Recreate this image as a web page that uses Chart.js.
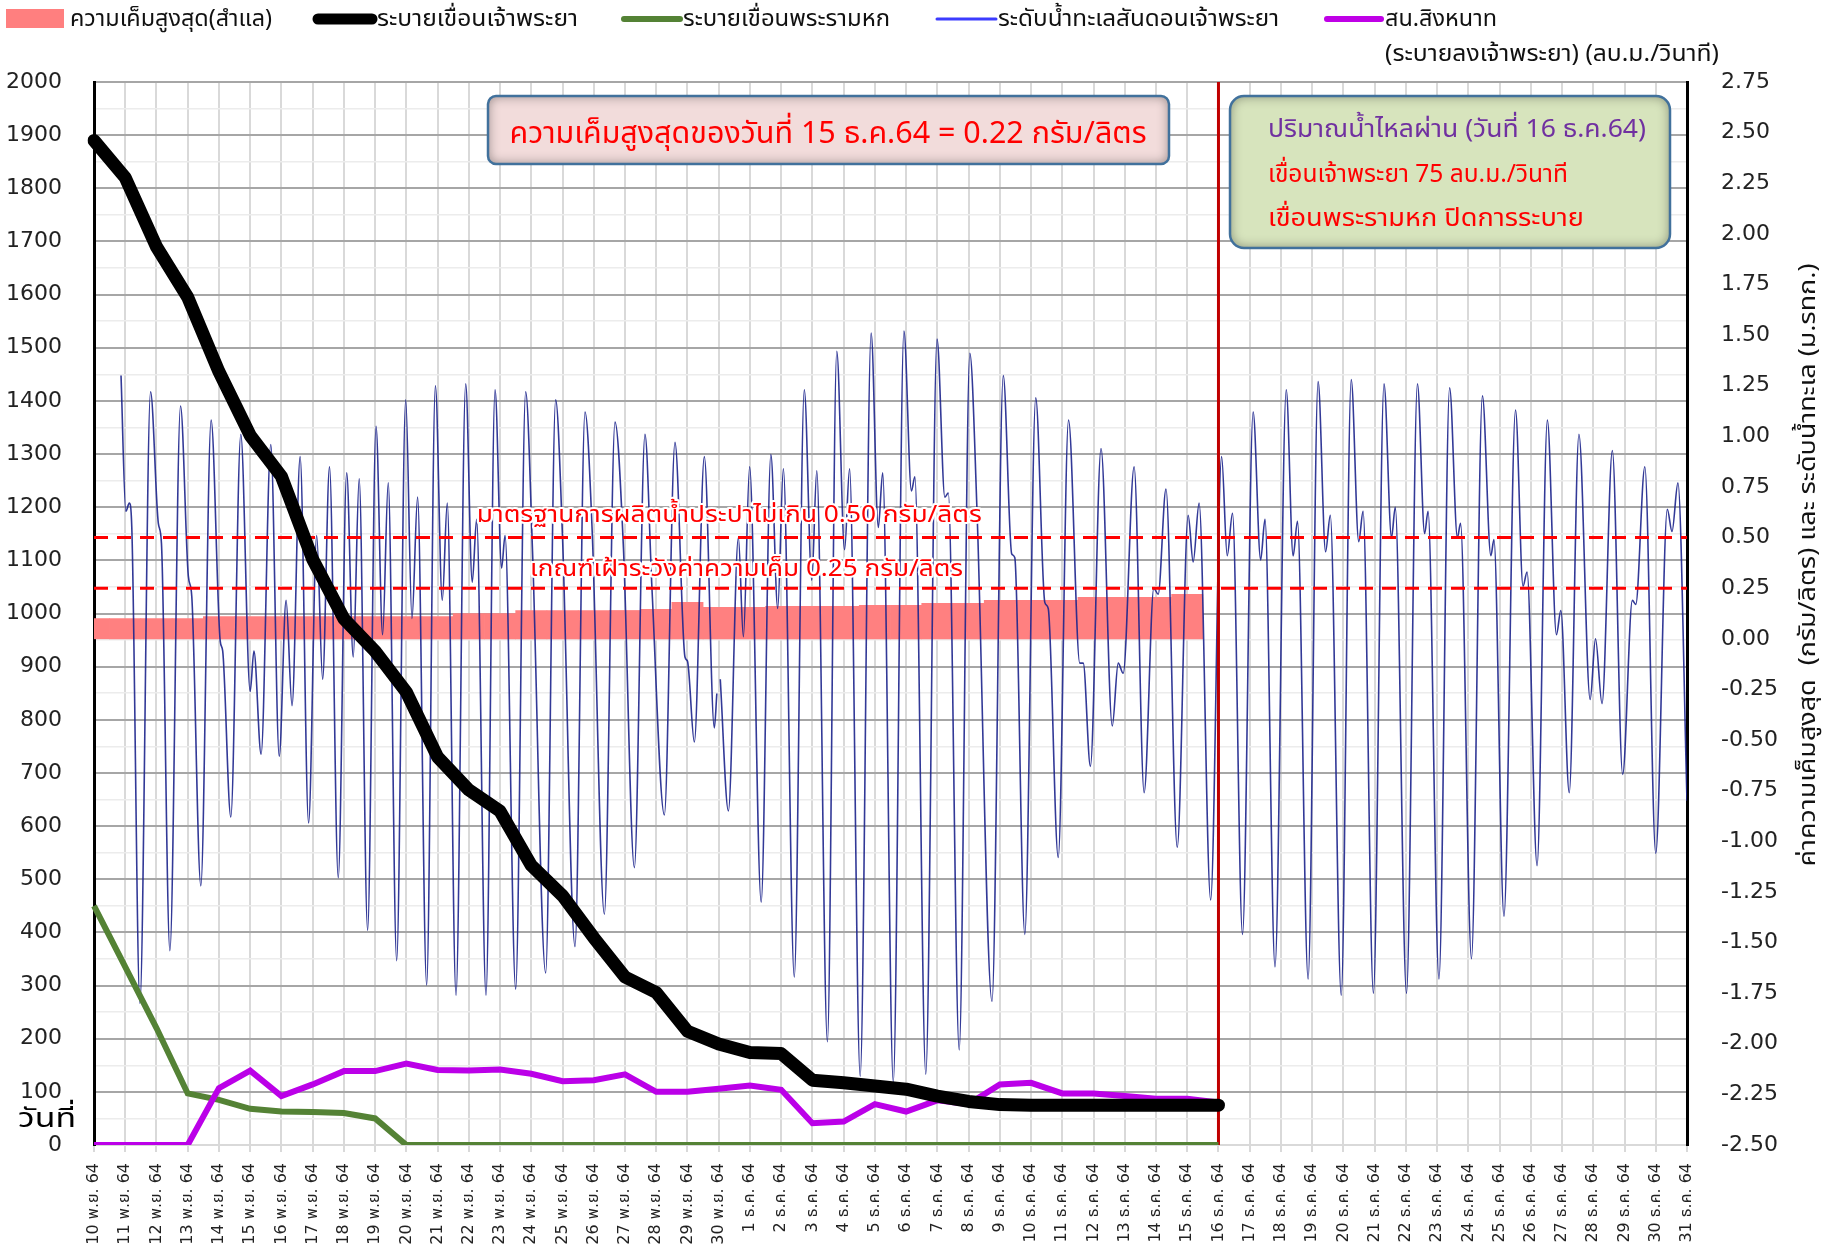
<!DOCTYPE html>
<html>
<head>
<meta charset="utf-8">
<script src="https://cdn.jsdelivr.net/npm/chart.js@4.4.0/dist/chart.umd.min.js"></script>
<style>
  html, body { margin: 0; padding: 0; background: #ffffff; }
  #wrap { position: relative; width: 1837px; height: 1247px; }
</style>
</head>
<body>
<div id="wrap"><canvas id="c" width="1837" height="1247"></canvas></div>
<script>
// ---- x-axis categories (one per day) ----
const novDays = [10,11,12,13,14,15,16,17,18,19,20,21,22,23,24,25,26,27,28,29,30];
const decDays = [1,2,3,4,5,6,7,8,9,10,11,12,13,14,15,16,17,18,19,20,21,22,23,24,25,26,27,28,29,30,31];
const dateLabels = novDays.map(d => d + ' พ.ย. 64').concat(decDays.map(d => d + ' ธ.ค. 64'));

// ---- daily maximum salinity at Samlae (g/l, right axis), 10 Nov - 15 Dec ----
const salinityMax = [0.10,0.10,0.10,0.10,0.11,0.11,0.11,0.11,0.11,0.11,0.11,0.11,0.125,0.125,0.14,0.14,
  0.14,0.14,0.145,0.18,0.155,0.155,0.16,0.16,0.16,0.165,0.165,0.175,0.175,0.19,0.19,0.19,0.205,0.205,0.205,0.22];

// ---- discharges (m3/s, left axis), 10 Nov - 16 Dec ----
const releaseChaoPhraya = [1890,1820,1690,1595,1455,1335,1258,1102,990,929,852,730,668,628,526,469,390,316,287,214,
  190,174,172,122,117,111,105,92,82,76,75,75,75,75,75,75,75];
const releaseRama6 = [450,335,220,97,85,68,63,62,60,50,0,0,0,0,0,0,0,0,0,0,0,0,0,0,0,0,0,0,0,0,0,0,0,0,0,0,0];
const releaseSinghanat = [0,0,0,0,107,140,92,114,139,139,153,141,140,142,134,120,122,133,100,100,106,112,104,41,44,77,
  63,84,77,114,117,97,97,92,87,87,80];

// ---- sea level at the Chao Phraya bar (m MSL, right axis): turning points, x in days from 10 Nov ----
const tideDay = [0.865,1.02,1.13,1.21,1.47,1.81,2.06,2.16,2.43,2.77,3.02,3.13,3.42,3.75,4.04,4.12,4.38,4.70,5.00,5.12,
  5.35,5.66,5.93,6.15,6.34,6.60,6.87,7.13,7.32,7.54,7.82,8.09,8.30,8.49,8.76,9.03,9.24,9.42,9.69,9.98,
  10.18,10.36,10.65,10.93,11.15,11.31,11.59,11.90,12.11,12.25,12.55,12.84,13.05,13.16,13.50,13.82,14.04,14.46,14.78,15.00,
  15.40,15.72,15.95,16.34,16.68,16.95,17.30,17.64,17.86,18.26,18.60,18.92,19.00,19.22,19.54,19.86,19.94,19.97,20.05,20.31,
  20.63,20.79,20.99,21.36,21.67,21.89,22.07,22.42,22.74,22.98,23.14,23.48,23.78,24.03,24.19,24.53,24.88,25.11,25.25,25.59,
  25.93,26.17,26.28,26.63,26.99,27.24,27.35,27.70,28.04,28.27,28.75,29.11,29.38,29.48,29.80,30.15,30.44,30.55,30.87,31.20,
  31.56,31.67,31.90,32.24,32.60,32.79,32.95,33.30,33.62,33.93,34.07,34.32,34.68,35.03,35.19,35.38,35.75,36.10,36.28,36.45,
  36.77,37.11,37.35,37.49,37.81,38.17,38.39,38.53,38.87,39.19,39.43,39.58,39.93,40.25,40.49,40.63,40.96,41.30,41.54,41.66,
  42.02,42.37,42.60,42.71,43.06,43.40,43.65,43.75,44.10,44.45,44.72,44.82,45.14,45.51,45.75,45.88,46.20,46.53,46.82,46.96,
  47.23,47.54,47.90,48.07,48.28,48.61,48.94,49.25,49.36,49.65,50.00,50.37,50.52,50.71,51.00];
const tideLevel = [1.30,0.63,0.67,0.55,-1.80,1.22,0.57,0.47,-1.54,1.15,0.31,0.21,-1.22,1.08,-0.01,-0.06,-0.88,1.01,-0.26,-0.06,
  -0.57,0.96,-0.58,0.19,-0.33,0.90,-0.91,0.51,-0.20,0.85,-1.18,0.82,-0.09,0.79,-1.44,1.05,0.02,0.77,-1.59,1.18,
  0.10,0.70,-1.71,1.25,0.19,0.67,-1.76,1.26,0.28,0.59,-1.76,1.23,0.35,0.51,-1.73,1.22,0.43,-1.65,1.18,0.50,
  -1.52,1.12,0.53,-1.36,1.07,0.45,-1.13,1.01,0.26,-0.87,0.97,-0.09,-0.11,-0.51,0.90,-0.44,-0.27,null,-0.20,-0.85,
  0.50,0.01,0.85,-1.30,0.91,0.15,0.84,-1.67,1.23,0.29,0.83,-1.99,1.42,0.44,0.84,-2.16,1.51,0.55,0.82,-2.19,
  1.52,0.73,0.80,-2.15,1.48,0.70,0.72,-2.03,1.41,0.63,-1.79,1.30,0.42,0.40,-1.46,1.19,0.18,0.15,-1.08,1.08,
  -0.12,-0.12,-0.63,0.94,-0.43,-0.12,-0.17,0.85,-0.76,0.25,0.22,0.74,-1.03,0.61,0.38,0.67,-1.29,0.90,0.41,0.62,
  -1.46,1.12,0.39,0.59,-1.62,1.23,0.41,0.58,-1.68,1.27,0.43,0.61,-1.76,1.28,0.48,0.63,-1.75,1.26,0.50,0.65,
  -1.75,1.26,0.52,0.63,-1.68,1.24,0.50,0.57,-1.58,1.20,0.41,0.49,-1.37,1.13,0.26,0.33,-1.12,1.08,0.02,0.14,
  -0.76,1.01,-0.30,0.00,-0.32,0.93,-0.67,0.19,0.17,0.85,-1.06,0.64,0.53,0.77,-0.80];

// ---- reference levels and report day ----
const standardLimit = 0.50;   // tap-water production standard (g/l)
const watchLimit = 0.25;      // salinity watch threshold (g/l)
const reportDay = 36;         // 16 Dec 64

const tidePoints = tideDay.map((d, i) => ({ x: d, y: tideLevel[i] }));

const THAI = "'Noto Sans Thai', 'Noto Sans Thai UI', 'Noto Looped Thai', 'Tahoma', 'Noto Sans', sans-serif";
const AXIS = "'DejaVu Sans', 'Noto Sans Thai', 'Noto Sans', sans-serif";

// draw text squeezed / stretched to a given width
function fitText(ctx, text, x, y, width, align, halo) {
  const w = ctx.measureText(text).width;
  const sx = width / w;
  ctx.save();
  ctx.translate(x, y);
  ctx.scale(sx, 1);
  ctx.textAlign = 'left';
  const x0 = align === 'center' ? -w / 2 : 0;
  if (halo) {
    ctx.lineJoin = 'round';
    ctx.lineWidth = halo;
    ctx.strokeStyle = '#ffffff';
    ctx.strokeText(text, x0, 0);
  }
  ctx.fillText(text, x0, 0);
  ctx.restore();
}

function noteBox(ctx, x, y, w, h, r, fill) {
  ctx.save();
  ctx.beginPath();
  ctx.roundRect(x, y, w, h, r);
  ctx.fillStyle = fill;
  ctx.fill();
  ctx.clip();
  ctx.shadowColor = 'rgba(0,0,0,0.6)';
  ctx.shadowBlur = 12;
  ctx.lineWidth = 10;
  ctx.strokeStyle = 'rgba(60,60,60,0.7)';
  ctx.beginPath();
  ctx.roundRect(x - 5, y - 5, w + 10, h + 10, r + 5);
  ctx.stroke();
  ctx.restore();
  ctx.save();
  ctx.beginPath();
  ctx.roundRect(x, y, w, h, r);
  ctx.lineWidth = 2.5;
  ctx.strokeStyle = '#41719c';
  ctx.stroke();
  ctx.restore();
}

const legendItems = [
  { kind: 'box',  color: '#ff7f7f', x0: 6,    x1: 64,   tx: 70,   tw: 202, text: 'ความเค็มสูงสุด(สำแล)' },
  { kind: 'line', color: '#000000', x0: 318,  x1: 372,  tx: 377,  tw: 201, text: 'ระบายเขื่อนเจ้าพระยา', lw: 11 },
  { kind: 'line', color: '#548235', x0: 624,  x1: 680,  tx: 683,  tw: 207, text: 'ระบายเขื่อนพระรามหก', lw: 6 },
  { kind: 'line', color: '#3c3cff', x0: 937,  x1: 996,  tx: 998,  tw: 281, text: 'ระดับน้ำทะเลสันดอนเจ้าพระยา', lw: 3 },
  { kind: 'line', color: '#bf00e6', x0: 1327, x1: 1381, tx: 1385, tw: 112, text: 'สน.สิงหนาท', lw: 6 }
];

const decorations = {
  id: 'decorations',
  afterDatasetsDraw(chart) {
    const ctx = chart.ctx;
    const xs = chart.scales.xT, yr = chart.scales.yR;
    ctx.save();
    ctx.fillStyle = '#ff0000';
    ctx.textBaseline = 'middle';
    ctx.font = '23px ' + THAI;
    fitText(ctx, 'มาตรฐานการผลิตน้ำประปาไม่เกิน 0.50 กรัม/ลิตร', xs.getPixelForValue(20.34), yr.getPixelForValue(standardLimit) - 20, 505, 'center', 4);
    fitText(ctx, 'เกณฑ์เฝ้าระวังค่าความเค็ม 0.25 กรัม/ลิตร', xs.getPixelForValue(20.89), yr.getPixelForValue(watchLimit) - 17, 433, 'center', 4);
    ctx.restore();
  },
  afterDraw(chart) {
    const ctx = chart.ctx;
    ctx.save();
    // legend
    ctx.textBaseline = 'middle';
    ctx.font = '23px ' + THAI;
    legendItems.forEach(it => {
      if (it.kind === 'box') {
        ctx.fillStyle = it.color;
        ctx.fillRect(it.x0, 9, it.x1 - it.x0, 19);
      } else {
        ctx.beginPath();
        ctx.moveTo(it.x0, 19);
        ctx.lineTo(it.x1, 19);
        ctx.lineWidth = it.lw;
        ctx.lineCap = 'round';
        ctx.strokeStyle = it.color;
        ctx.stroke();
      }
      ctx.fillStyle = '#111111';
      fitText(ctx, it.text, it.tx, 21, it.tw, 'left');
    });
    fitText(ctx, '(ระบายลงเจ้าพระยา) (ลบ.ม./วินาที)', 1385, 56, 334, 'left');

    // right axis title
    ctx.save();
    ctx.translate(1810, 565);
    ctx.rotate(-Math.PI / 2);
    ctx.font = '23px ' + THAI;
    ctx.fillStyle = '#111111';
    fitText(ctx, 'ค่าความเค็มสูงสุด  (กรัม/ลิตร) และ ระดับน้ำทะเล (ม.รทก.)', 0, 0, 603, 'center');
    ctx.restore();

    // bottom-left caption
    ctx.font = '27px ' + THAI;
    ctx.fillStyle = '#000000';
    fitText(ctx, 'วันที่', 18, 1122, 58, 'left');

    // note boxes
    noteBox(ctx, 488, 96, 681, 68, 8, '#f2dcdb');
    ctx.font = '30px ' + THAI;
    ctx.fillStyle = '#ff0000';
    fitText(ctx, 'ความเค็มสูงสุดของวันที่ 15 ธ.ค.64 = 0.22 กรัม/ลิตร', 828, 137, 637, 'center');

    noteBox(ctx, 1230, 96, 440, 152, 14, '#d7e4bd');
    ctx.font = '25px ' + THAI;
    ctx.fillStyle = '#7030a0';
    fitText(ctx, 'ปริมาณน้ำไหลผ่าน (วันที่ 16 ธ.ค.64)', 1268, 132, 378, 'left');
    ctx.fillStyle = '#ff0000';
    fitText(ctx, 'เขื่อนเจ้าพระยา 75 ลบ.ม./วินาที', 1268, 177, 300, 'left');
    fitText(ctx, 'เขื่อนพระรามหก ปิดการระบาย', 1268, 221, 316, 'left');
    ctx.restore();
  }
};

const ctx = document.getElementById('c').getContext('2d');
new Chart(ctx, {
  type: 'bar',
  data: {
    labels: dateLabels,
    datasets: [
      { type: 'bar', label: 'ความเค็มสูงสุด(สำแล)', data: salinityMax, xAxisID: 'x', yAxisID: 'yR',
        backgroundColor: '#ff8080', grouped: false, barPercentage: 1, categoryPercentage: 1, borderWidth: 0, order: 9 },
      { type: 'line', label: 'ระดับน้ำทะเลสันดอนเจ้าพระยา', data: tidePoints, xAxisID: 'xT', yAxisID: 'yR',
        borderColor: 'rgba(28,36,140,0.9)', borderWidth: 1.6, pointRadius: 0, cubicInterpolationMode: 'monotone',
        spanGaps: false, order: 8 },
      { type: 'line', label: 'standard', data: [{ x: 0, y: standardLimit }, { x: 51, y: standardLimit }], xAxisID: 'xT', yAxisID: 'yR',
        borderColor: '#ff0000', borderWidth: 3, borderDash: [14, 9], pointRadius: 0, order: 7 },
      { type: 'line', label: 'watch', data: [{ x: 0, y: watchLimit }, { x: 51, y: watchLimit }], xAxisID: 'xT', yAxisID: 'yR',
        borderColor: '#ff0000', borderWidth: 3, borderDash: [14, 9], pointRadius: 0, order: 7 },
      { type: 'line', label: 'report day', data: [{ x: reportDay, y: -2.5 }, { x: reportDay, y: 2.75 }], xAxisID: 'xT', yAxisID: 'yR',
        borderColor: '#c00000', borderWidth: 3, pointRadius: 0, order: 6 },
      { type: 'line', label: 'ระบายเขื่อนพระรามหก', data: releaseRama6, xAxisID: 'x', yAxisID: 'y',
        borderColor: '#548235', borderWidth: 6, pointRadius: 0, tension: 0, order: 3 },
      { type: 'line', label: 'สน.สิงหนาท', data: releaseSinghanat, xAxisID: 'x', yAxisID: 'y',
        borderColor: '#bb00e8', borderWidth: 6, pointRadius: 0, tension: 0, order: 2 },
      { type: 'line', label: 'ระบายเขื่อนเจ้าพระยา', data: releaseChaoPhraya, xAxisID: 'x', yAxisID: 'y',
        borderColor: '#000000', borderWidth: 13, pointRadius: 0, tension: 0, borderCapStyle: 'round',
        borderJoinStyle: 'round', order: 1 }
    ]
  },
  options: {
    responsive: false,
    animation: false,
    devicePixelRatio: 1,
    layout: { padding: { top: 82, left: 0, right: 0, bottom: 0 } },
    plugins: { legend: { display: false }, tooltip: { enabled: false } },
    scales: {
      x: {
        type: 'category', position: 'bottom', offset: false,
        grid: { color: '#d9d9d9', lineWidth: 2, tickLength: 7, offset: false },
        border: { display: true, color: '#d9d9d9', width: 2 },
        ticks: { autoSkip: false, minRotation: 90, maxRotation: 90, padding: 11, color: '#222222',
                 font: { family: AXIS, size: 16 } },
        afterFit(s) { s.height = 102; }
      },
      xT: { type: 'linear', min: 0, max: 51, display: false, offset: false },
      y: {
        position: 'left', min: 0, max: 2000,
        ticks: { stepSize: 50, autoSkip: false, padding: 32, color: '#222222', font: { family: AXIS, size: 22 },
                 callback: v => (v % 100 === 0 ? String(v) : '') },
        grid: { drawTicks: false,
                color: c => (c.tick && c.tick.value % 100 === 0 ? '#a6a6a6' : '#ececec'),
                lineWidth: c => (c.tick && c.tick.value % 100 === 0 ? 2 : 1.5) },
        border: { display: true, color: '#000000', width: 3 },
        afterFit(s) { s.width = 94; }
      },
      yR: {
        position: 'right', min: -2.5, max: 2.75,
        ticks: { stepSize: 0.25, autoSkip: false, padding: 34, color: '#222222', font: { family: AXIS, size: 22 },
                 callback: v => v.toFixed(2) },
        grid: { display: false, drawTicks: false },
        border: { display: true, color: '#000000', width: 3 },
        afterFit(s) { s.width = 150; }
      }
    }
  },
  plugins: [decorations]
});
</script>
</body>
</html>
